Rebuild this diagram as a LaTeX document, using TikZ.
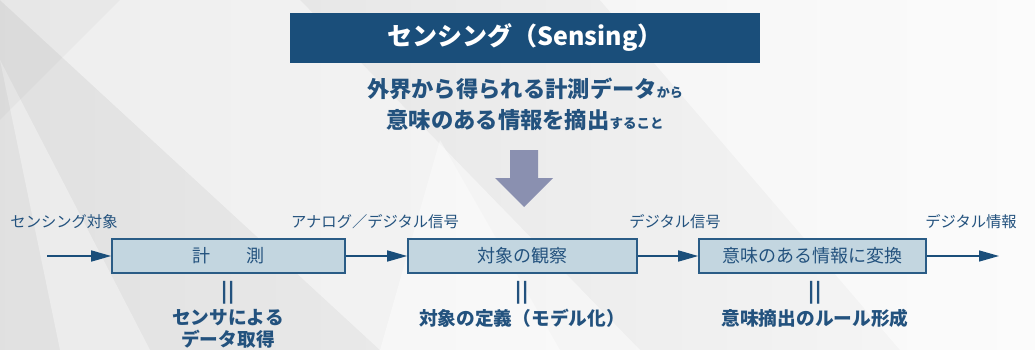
\documentclass[tikz,border=0pt]{standalone}
\usepackage{fontspec}
\setmainfont{Noto Sans CJK JP}
\newfontfamily\jp{Noto Sans CJK JP}
\usetikzlibrary{arrows.meta}
\definecolor{navy}{HTML}{1A4E7A}
\definecolor{txt}{HTML}{23527E}
\definecolor{boxfill}{HTML}{C3D6E0}
\definecolor{boxline}{HTML}{2A5C86}
\definecolor{darrow}{HTML}{8A90B0}
\begin{document}
\begin{tikzpicture}[x=1pt,y=-1pt,
  procbox/.style={draw=boxline,line width=1.6pt,fill=boxfill,minimum width=233pt,minimum height=34pt,inner sep=0pt,font=\jp\fontsize{18}{21}\selectfont,text=txt},
  flow/.style={draw=navy,line width=1.4pt,-{Triangle[length=20pt,width=11pt]}},
  lbl/.style={font=\jp\fontsize{15.3}{18}\selectfont,text=txt,inner sep=0pt},
  eqs/.style={font=\jp\bfseries\fontsize{20}{22}\selectfont,text=txt,inner sep=0pt},
  desc/.style={font=\jp\bfseries\fontsize{18.7}{22}\selectfont,text=txt,inner sep=0pt,align=center}
]
% background
\path[use as bounding box] (0,0) rectangle (1035,350);
\fill[left color=gray!24,right color=gray!6] (0,0) rectangle (1035,350);
\fill[white,opacity=0.45] (0,0) -- (300,0) -- (640,350) -- (380,350) -- cycle;
\fill[white,opacity=0.35] (0,60) -- (150,350) -- (60,350) -- cycle;
\fill[white,opacity=0.4] (440,140) -- (560,350) -- (380,350) -- cycle;
\fill[white,opacity=0.5] (600,0) -- (1035,0) -- (1035,350) -- (900,350) -- cycle;
\fill[gray,opacity=0.06] (0,0) -- (120,0) -- (0,120) -- cycle;
% title
\node[fill=navy,minimum width=470pt,minimum height=50pt,inner sep=0pt,text=white,font=\jp\bfseries\fontsize{25}{28}\selectfont] (title) at (525,38) {センシング（Sensing）};
% subtitle
\node[inner sep=0pt,text=txt,font=\jp\bfseries\fontsize{22.3}{26}\selectfont] (sub1) at (525,89) {外界から得られる計測データ{\fontsize{13}{15}\selectfont から}};
\node[inner sep=0pt,text=txt,font=\jp\bfseries\fontsize{22.3}{26}\selectfont] (sub2) at (525,120) {意味のある情報を摘出{\fontsize{13.5}{15}\selectfont すること}};
% down arrow
\fill[darrow] (510,150) -- (538,150) -- (538,178) -- (553,178) -- (524,207) -- (495,178) -- (510,178) -- cycle;
% boxes
\node[procbox] (b1) at (228.5,256) {計　　測};
\node[procbox,minimum width=229pt] (b2) at (522.5,256) {対象の観察};
\node[procbox,minimum width=227pt] (b3) at (812.5,256) {意味のある情報に変換};
\coordinate (s) at (47,256);
\coordinate (e) at (999,256);
\draw[flow] (s) -- (b1);
\draw[flow] (b1) -- (b2);
\draw[flow] (b2) -- (b3);
\draw[flow] (b3) -- (e);
% labels
\node[lbl] (l0) at (64,222) {センシング対象};
\node[lbl] (l1) at (375,222) {アナログ／デジタル信号};
\node[lbl] (l2) at (675,222) {デジタル信号};
\node[lbl] (l3) at (971,222) {デジタル情報};
% equal marks
\node[eqs] (q1) at (228,293) {||};
\node[eqs] (q2) at (522,293) {||};
\node[eqs] (q3) at (815,293) {||};
\node[desc] (d1) at (228,329) {センサによる\\データ取得};
\node[desc] (d2) at (522,318) {対象の定義（モデル化）};
\node[desc] (d3) at (815,318) {意味摘出のルール形成};
\end{tikzpicture}
\end{document}
